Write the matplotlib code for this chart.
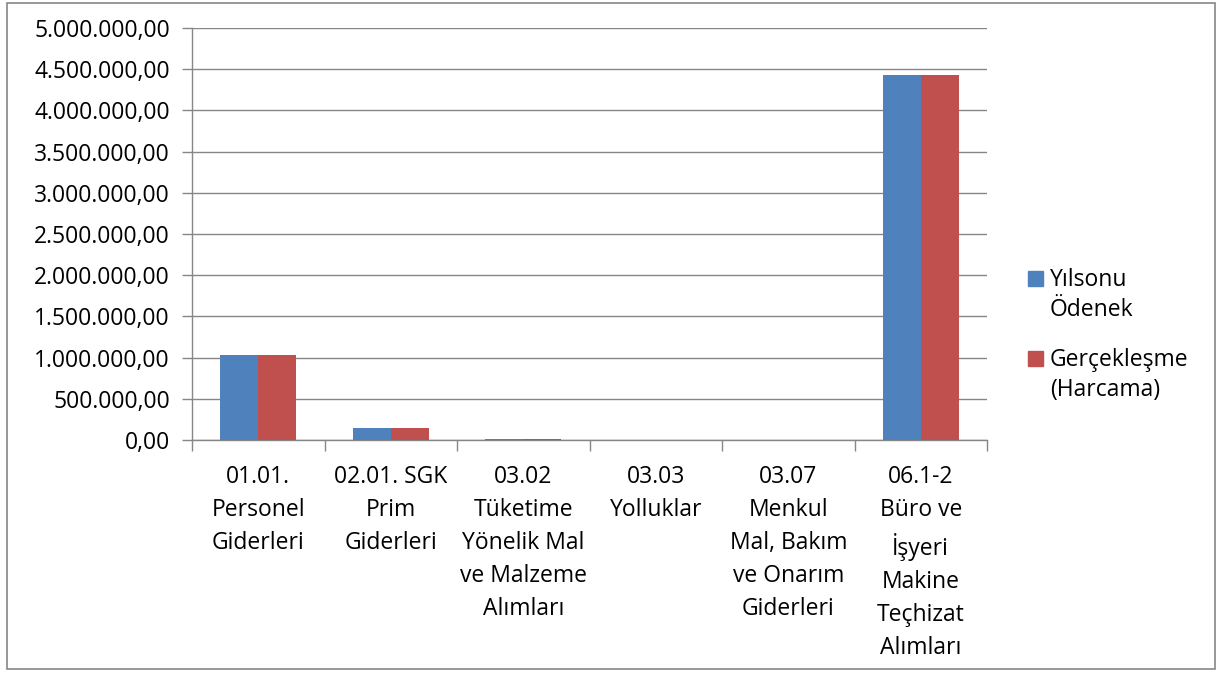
import matplotlib.pyplot as plt
from matplotlib.patches import Rectangle
from matplotlib.ticker import FuncFormatter
import numpy as np

plt.rcParams['font.family'] = ['Open Sans', 'DejaVu Sans']

categories = ["01.01.\nPersonel\nGiderleri",
              "02.01. SGK\nPrim\nGiderleri",
              "03.02\nTüketime\nYönelik Mal\nve Malzeme\nAlımları",
              "03.03\nYolluklar",
              "03.07\nMenkul\nMal, Bakım\nve Onarım\nGiderleri",
              "06.1-2\nBüro ve\nİşyeri\nMakine\nTeçhizat\nAlımları"]
odenek = [1037000, 150000, 8000, 1000, 6000, 4430000]
harcama = [1037000, 150000, 7000, 500, 5000, 4425000]
series_names = ["Yılsonu\nÖdenek", "Gerçekleşme\n(Harcama)"]
colors = ["#4f81bd", "#c0504d"]

FS = 16.5
W, H = 1221, 675


def tr_fmt(v, pos):
    s = "{:,.2f}".format(v)
    return s.replace(",", "X").replace(".", ",").replace("X", ".")


fig = plt.figure(figsize=(W/100, H/100), dpi=100)
ax = fig.add_axes([192/W, 1 - 440/H, (987-192)/W, (440-28)/H])

# outer chart border
fig.patches.append(Rectangle((7/W, 6/H), 1208/W, 666/H, transform=fig.transFigure,
                             fill=False, edgecolor="#868686", linewidth=1.2))

x = np.arange(len(categories))
w = 1 / 3.5
ax.bar(x - w/2, odenek, w, color=colors[0], zorder=3)
ax.bar(x + w/2, harcama, w, color=colors[1], zorder=3)

ax.set_xlim(-0.5, len(categories) - 0.5)
ax.set_ylim(0, 5000000)
ax.set_yticks(np.arange(0, 5000001, 500000))
ax.yaxis.set_major_formatter(FuncFormatter(tr_fmt))
ax.grid(axis='y', color="#868686", linewidth=1, zorder=0)

ax.set_xticks(np.arange(-0.5, len(categories), 1))
ax.set_xticklabels([])
ax.set_xticks(x, minor=True)
ax.set_xticklabels(categories, minor=True, fontsize=FS, linespacing=1.5, va='top')
ax.tick_params(axis='x', which='major', length=8, color="#868686", width=1)
ax.tick_params(axis='x', which='minor', length=0, pad=18)
ax.tick_params(axis='y', length=7, color="#868686", width=1, labelsize=FS, pad=9)

for side in ['top', 'right']:
    ax.spines[side].set_visible(False)
for side in ['left', 'bottom']:
    ax.spines[side].set_color("#868686")
    ax.spines[side].set_linewidth(1)

# legend, marker aligned with the first text line like in the original
leg_y = [282, 362]
for name, col, yy in zip(series_names, colors, leg_y):
    fig.patches.append(Rectangle((1028/W, 1 - (yy + 4)/H), 15/W, 15/H,
                                 transform=fig.transFigure, color=col))
    fig.text(1050/W, 1 - (yy - 14)/H, name, fontsize=FS, va='top', ha='left',
             linespacing=1.35)

fig.savefig("out.png", dpi=100)
